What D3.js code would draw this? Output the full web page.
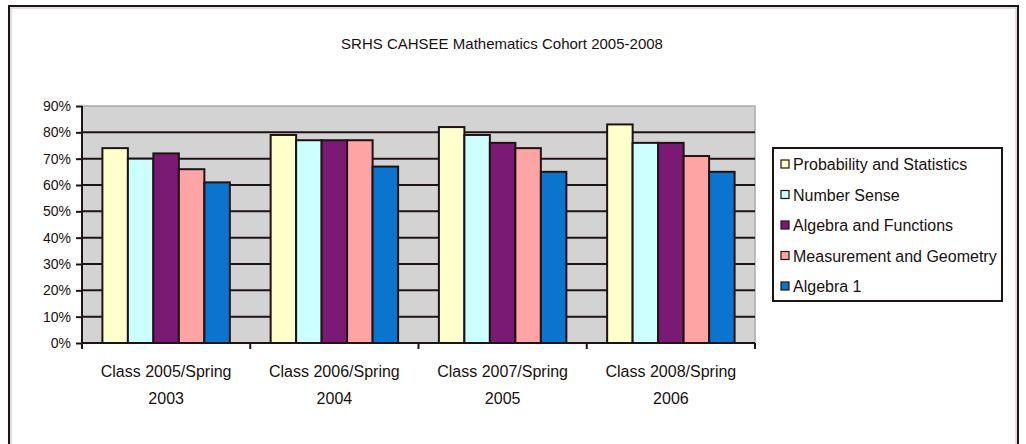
<!DOCTYPE html>
<html>
<head>
<meta charset="utf-8">
<script src="https://cdn.jsdelivr.net/npm/d3@7"></script>
<style>
  html, body { margin: 0; padding: 0; background: #fff; }
  svg { display: block; }
  text { font-family: Arial, 'Liberation Sans', sans-serif; fill: #1a1010; }
</style>
</head>
<body>
<div id="chart"></div>
<script>
const
  titleText = 'SRHS CAHSEE Mathematics Cohort 2005-2008',
  categories = [
    ['Class 2005/Spring', '2003'],
    ['Class 2006/Spring', '2004'],
    ['Class 2007/Spring', '2005'],
    ['Class 2008/Spring', '2006']
  ],
  seriesNames = ['Probability and Statistics', 'Number Sense', 'Algebra and Functions', 'Measurement and Geometry', 'Algebra 1'],
  probStats = [74, 79, 82, 83],
  numberSense = [70, 77, 79, 76],
  algebraFunctions = [72, 77, 76, 76],
  measurementGeometry = [66, 77, 74, 71],
  algebra1 = [61, 67, 65, 65],
  yTicks = [0, 10, 20, 30, 40, 50, 60, 70, 80, 90];

const
  seriesValues = [probStats, numberSense, algebraFunctions, measurementGeometry, algebra1],
  colors = ['#ffffcc', '#ccffff', '#7a1a74', '#ffa4a4', '#0a74cf'],
  ink = '#1f1414',
  W = 1026,
  H = 444,
  plot = { left: 82, right: 755, top: 106, bottom: 343 };

let svg = d3.select('#chart')
  .append('svg')
  .attr('width', W)
  .attr('height', H);

// outer frame
svg.append('rect')
  .attr('x', 9).attr('y', 6)
  .attr('width', 1009).attr('height', 520)
  .attr('fill', '#fff')
  .attr('stroke', ink)
  .attr('stroke-width', 2);
svg.append('rect')
  .attr('x', 11).attr('y', 8)
  .attr('width', 1005).attr('height', 520)
  .attr('fill', 'none')
  .attr('stroke', '#c8c0c0')
  .attr('stroke-width', 1);

// title
svg.append('text')
  .attr('x', 502)
  .attr('y', 49)
  .attr('text-anchor', 'middle')
  .attr('font-size', 15)
  .text(titleText);

let x = d3.scaleBand()
  .domain(d3.range(categories.length))
  .range([plot.left, plot.right])
  .padding(0);

let xs = d3.scaleBand()
  .domain(d3.range(seriesNames.length))
  .range([0, x.bandwidth()])
  .paddingInner(0)
  .paddingOuter(0.8);

let y = d3.scaleLinear()
  .domain([0, 90])
  .range([plot.bottom, plot.top]);

// plot area
svg.append('rect')
  .attr('x', plot.left)
  .attr('y', plot.top)
  .attr('width', plot.right - plot.left)
  .attr('height', plot.bottom - plot.top)
  .attr('fill', '#d3d3d3')
  .attr('stroke', '#ababab')
  .attr('stroke-width', 1.5);

// gridlines
svg.append('g')
  .selectAll('line')
  .data(yTicks.filter(function (d) { return d > 0 && d < 90; }))
  .enter().append('line')
  .attr('x1', plot.left)
  .attr('x2', plot.right)
  .attr('y1', function (d) { return y(d); })
  .attr('y2', function (d) { return y(d); })
  .attr('stroke', ink)
  .attr('stroke-width', 2);

// bars
seriesValues.forEach(function (vals, s) {
  svg.append('g')
    .selectAll('rect')
    .data(vals)
    .enter().append('rect')
    .attr('x', function (d, i) { return x(i) + xs(s); })
    .attr('y', function (d) { return y(d); })
    .attr('width', xs.bandwidth())
    .attr('height', function (d) { return plot.bottom - y(d); })
    .attr('fill', colors[s])
    .attr('stroke', ink)
    .attr('stroke-width', 2);
});

// y axis
let yAxis = svg.append('g')
  .attr('transform', 'translate(' + plot.left + ',0)')
  .call(d3.axisLeft(y)
    .tickValues(yTicks)
    .tickSize(6)
    .tickPadding(5)
    .tickFormat(function (d) { return d + '%'; }));
yAxis.selectAll('line, path').attr('stroke', ink).attr('stroke-width', 2);
yAxis.select('.domain').attr('d', 'M0,' + plot.top + 'V' + plot.bottom);
yAxis.selectAll('text')
  .attr('font-size', 14)
  .attr('font-family', 'Arial, "Liberation Sans", sans-serif')
  .attr('fill', ink);

// x axis (ticks at category boundaries)
let xAxisG = svg.append('g');
xAxisG.append('line')
  .attr('x1', plot.left).attr('x2', plot.right)
  .attr('y1', plot.bottom).attr('y2', plot.bottom)
  .attr('stroke', ink).attr('stroke-width', 2);
xAxisG.selectAll('line.tick')
  .data(d3.range(categories.length + 1))
  .enter().append('line')
  .attr('class', 'tick')
  .attr('x1', function (d) { return d < categories.length ? x(d) : plot.right; })
  .attr('x2', function (d) { return d < categories.length ? x(d) : plot.right; })
  .attr('y1', plot.bottom)
  .attr('y2', plot.bottom + 6)
  .attr('stroke', ink).attr('stroke-width', 2);

let catLabel = xAxisG.selectAll('text')
  .data(categories)
  .enter().append('text')
  .attr('text-anchor', 'middle')
  .attr('font-size', 16);
catLabel.append('tspan')
  .attr('x', function (d, i) { return x(i) + x.bandwidth() / 2; })
  .attr('y', 377)
  .text(function (d) { return d[0]; });
catLabel.append('tspan')
  .attr('x', function (d, i) { return x(i) + x.bandwidth() / 2; })
  .attr('y', 404)
  .text(function (d) { return d[1]; });

// legend
let legend = svg.append('g');
legend.append('rect')
  .attr('x', 773).attr('y', 148)
  .attr('width', 229).attr('height', 153)
  .attr('fill', '#fff')
  .attr('stroke', ink)
  .attr('stroke-width', 2);

let item = legend.selectAll('g.item')
  .data(seriesNames)
  .enter().append('g')
  .attr('class', 'item')
  .attr('transform', function (d, i) { return 'translate(781,' + (164 + i * 30.5) + ')'; });

item.append('rect')
  .attr('x', 0).attr('y', -4)
  .attr('width', 8).attr('height', 8)
  .attr('fill', function (d, i) { return colors[i]; })
  .attr('stroke', ink)
  .attr('stroke-width', 1.2);

item.append('text')
  .attr('x', 12)
  .attr('y', 6)
  .attr('font-size', 16)
  .text(function (d) { return d; });
</script>
</body>
</html>
